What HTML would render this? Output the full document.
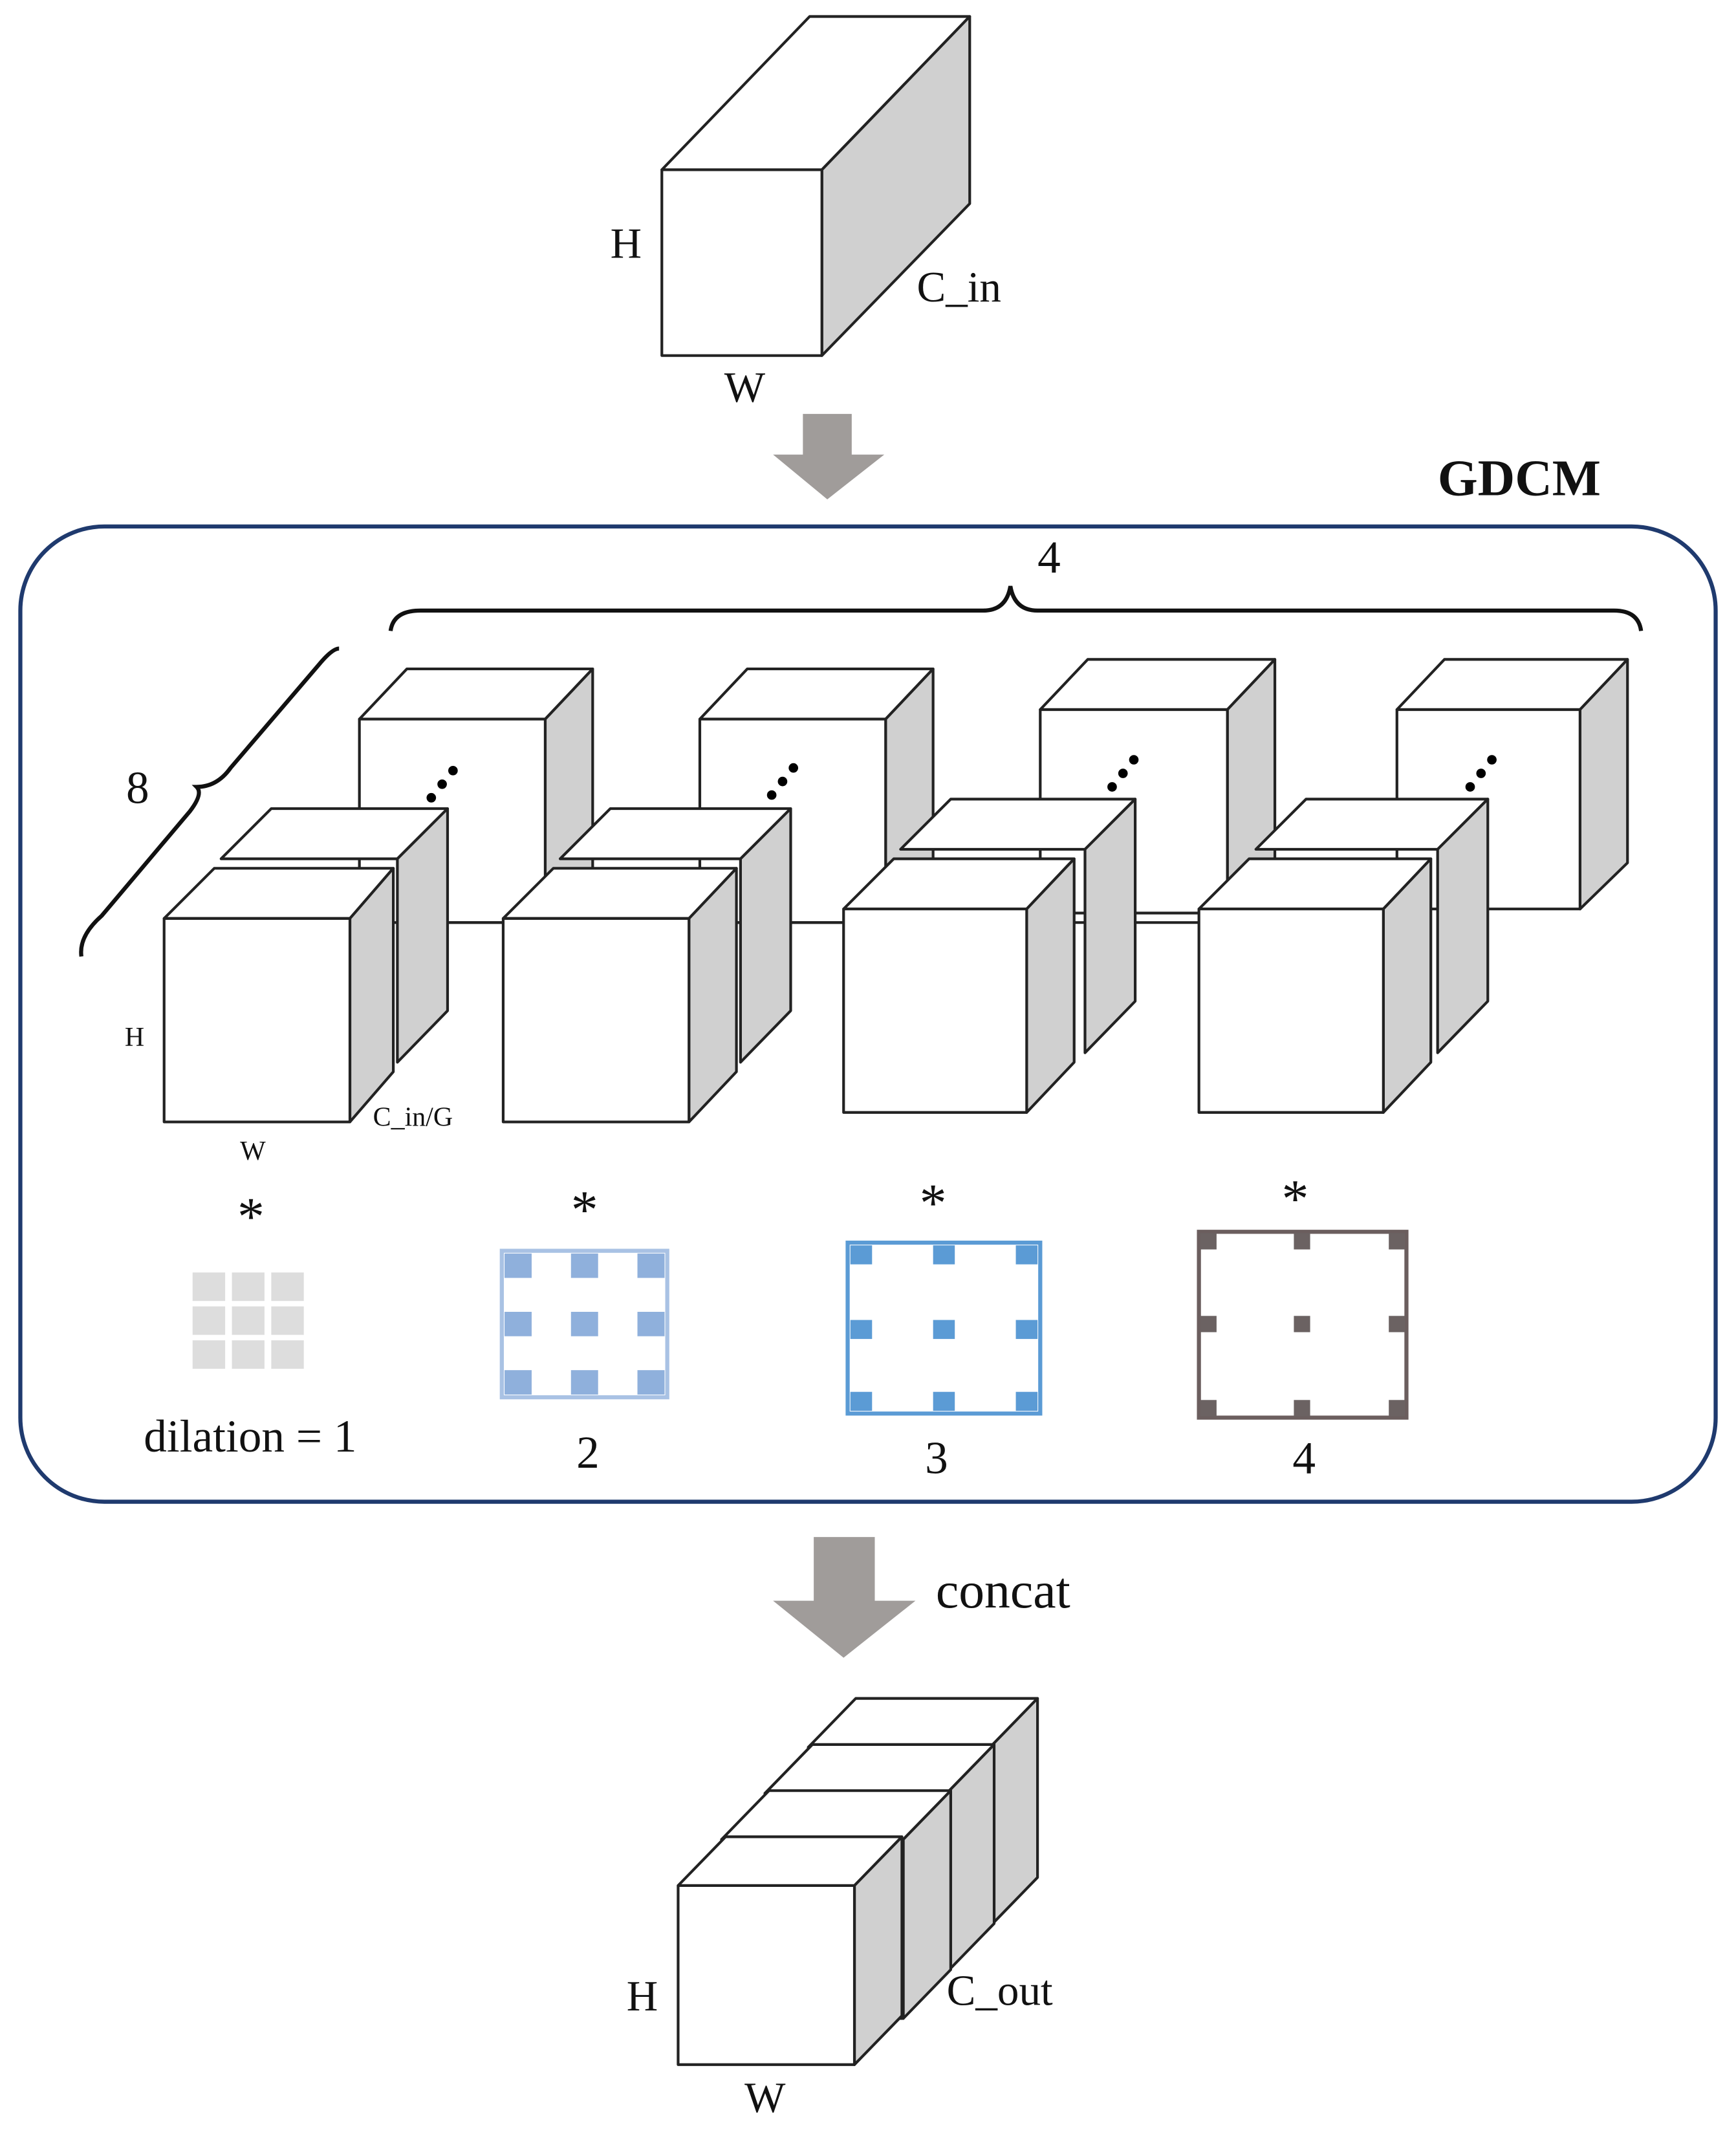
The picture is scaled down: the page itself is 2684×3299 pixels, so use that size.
<!DOCTYPE html>
<html><head><meta charset="utf-8"><style>
html,body{margin:0;padding:0;background:#fff}
svg{display:block}
text{font-family:"Liberation Serif",serif;fill:#111}
</style></head><body>
<svg width="2684" height="3299" viewBox="0 0 1280 1573" xmlns="http://www.w3.org/2000/svg">
<defs>
<g id="dots"><circle cx="0" cy="0" r="3.5" fill="#000"/><circle cx="-8" cy="10" r="3.5" fill="#000"/><circle cx="-16" cy="20" r="3.5" fill="#000"/></g>
</defs>
<g stroke="#222" stroke-width="2" stroke-linejoin="round">
<!-- top input box -->
<polygon points="488,125 597,12 715,12 606,125" fill="#fff"/>
<polygon points="606,125 715,12 715,150 606,262" fill="#d0d0d0"/>
<rect x="488" y="125" width="118" height="137" fill="#fff"/>
</g>
<text x="450" y="190" font-size="32">H</text>
<text x="676" y="222" font-size="32">C_in</text>
<text x="534" y="296" font-size="32">W</text>
<!-- arrow 1 -->
<polygon points="592,305 628,305 628,335 652,335 610,368 570,335 592,335" fill="#a09c9a"/>
<text x="1060" y="365" font-size="38" font-weight="bold">GDCM</text>
<rect x="15" y="388" width="1250" height="719" rx="62" fill="none" stroke="#1f3a6e" stroke-width="3"/>
<!-- braces -->
<path d="M288,465 Q290,450 310,450 L725,450 Q742,450 745,432 Q748,450 765,450 L1190,450 Q1208,450 1210,465" fill="none" stroke="#111" stroke-width="3"/>
<text x="765" y="422" font-size="34">4</text>
<path d="M60,705 Q58,690 75,675 L140,598 Q150,585 145,580 Q160,580 170,566 L235,490 Q245,478 250,478" fill="none" stroke="#111" stroke-width="3"/>
<text x="93" y="592" font-size="34">8</text>
<g stroke="#222" stroke-width="2" stroke-linejoin="round">
<!-- back cubes -->
<g id="back1">
<polygon points="265,530 300,493 437,493 402,530" fill="#fff"/>
<polygon points="402,530 437,493 437,643 402,680" fill="#d0d0d0"/>
<rect x="265" y="530" width="137" height="150" fill="#fff"/>
</g>
<polygon points="516,530 551,493 688,493 653,530" fill="#fff"/>
<polygon points="653,530 688,493 688,643 653,680" fill="#d0d0d0"/>
<rect x="516" y="530" width="137" height="150" fill="#fff"/>
<polygon points="767,523 802,486 940,486 905,523" fill="#fff"/>
<polygon points="905,523 940,486 940,636 905,673" fill="#d0d0d0"/>
<rect x="767" y="523" width="138" height="150" fill="#fff"/>
<polygon points="1030,523 1065,486 1200,486 1165,523" fill="#fff"/>
<polygon points="1165,523 1200,486 1200,636 1165,670" fill="#d0d0d0"/>
<rect x="1030" y="523" width="135" height="147" fill="#fff"/>
<line x1="330" y1="680" x2="1030" y2="680"/>
</g>
<use href="#dots" x="334" y="568"/>
<use href="#dots" x="585" y="566"/>
<use href="#dots" x="836" y="560"/>
<use href="#dots" x="1100" y="560"/>
<g stroke="#222" stroke-width="2" stroke-linejoin="round">
<!-- middle slabs + front cubes -->
<polygon points="163,633 200,596 330,596 293,633" fill="#fff"/>
<polygon points="293,633 330,596 330,745 293,783" fill="#d0d0d0"/>
<polygon points="121,677 158,640 290,640 258,677" fill="#fff"/>
<polygon points="258,677 290,640 290,790 258,827" fill="#d0d0d0"/>
<rect x="121" y="677" width="137" height="150" fill="#fff"/>

<polygon points="413,633 450,596 583,596 546,633" fill="#fff"/>
<polygon points="546,633 583,596 583,745 546,783" fill="#d0d0d0"/>
<polygon points="371,677 408,640 543,640 508,677" fill="#fff"/>
<polygon points="508,677 543,640 543,790 508,827" fill="#d0d0d0"/>
<rect x="371" y="677" width="137" height="150" fill="#fff"/>

<polygon points="664,626 701,589 837,589 800,626" fill="#fff"/>
<polygon points="800,626 837,589 837,738 800,776" fill="#d0d0d0"/>
<polygon points="622,670 659,633 792,633 757,670" fill="#fff"/>
<polygon points="757,670 792,633 792,783 757,820" fill="#d0d0d0"/>
<rect x="622" y="670" width="135" height="150" fill="#fff"/>

<polygon points="926,626 963,589 1097,589 1060,626" fill="#fff"/>
<polygon points="1060,626 1097,589 1097,738 1060,776" fill="#d0d0d0"/>
<polygon points="884,670 921,633 1055,633 1020,670" fill="#fff"/>
<polygon points="1020,670 1055,633 1055,783 1020,820" fill="#d0d0d0"/>
<rect x="884" y="670" width="136" height="150" fill="#fff"/>
</g>
<text x="92" y="771" font-size="20">H</text>
<text x="177" y="855" font-size="20">W</text>
<text x="275" y="830" font-size="20">C_in/G</text>
<text x="175" y="910" font-size="40">*</text>
<text x="421" y="905" font-size="40">*</text>
<text x="678" y="900" font-size="40">*</text>
<text x="945" y="897" font-size="40">*</text>
<!-- kernels -->
<g fill="#ddd">
<rect x="142" y="938" width="24" height="21"/><rect x="171" y="938" width="24" height="21"/><rect x="200" y="938" width="24" height="21"/>
<rect x="142" y="963" width="24" height="21"/><rect x="171" y="963" width="24" height="21"/><rect x="200" y="963" width="24" height="21"/>
<rect x="142" y="988" width="24" height="21"/><rect x="171" y="988" width="24" height="21"/><rect x="200" y="988" width="24" height="21"/>
</g>
<rect x="370" y="922" width="122" height="108" fill="none" stroke="#a9c2e4" stroke-width="3"/>
<g fill="#8fb0dc">
<rect x="372" y="924" width="20" height="18"/><rect x="421" y="924" width="20" height="18"/><rect x="470" y="924" width="20" height="18"/>
<rect x="372" y="967" width="20" height="18"/><rect x="421" y="967" width="20" height="18"/><rect x="470" y="967" width="20" height="18"/>
<rect x="372" y="1010" width="20" height="18"/><rect x="421" y="1010" width="20" height="18"/><rect x="470" y="1010" width="20" height="18"/>
</g>
<rect x="625" y="916" width="142" height="126" fill="none" stroke="#5b9bd5" stroke-width="3"/>
<g fill="#5b9bd5">
<rect x="627" y="918" width="16" height="14"/><rect x="688" y="918" width="16" height="14"/><rect x="749" y="918" width="16" height="14"/>
<rect x="627" y="973" width="16" height="14"/><rect x="688" y="973" width="16" height="14"/><rect x="749" y="973" width="16" height="14"/>
<rect x="627" y="1026" width="16" height="14"/><rect x="688" y="1026" width="16" height="14"/><rect x="749" y="1026" width="16" height="14"/>
</g>
<rect x="884" y="908" width="153" height="137" fill="none" stroke="#6b5e5e" stroke-width="3"/>
<g fill="#6b6262">
<rect x="885" y="909" width="12" height="12"/><rect x="954" y="909" width="12" height="12"/><rect x="1024" y="909" width="12" height="12"/>
<rect x="885" y="970" width="12" height="12"/><rect x="954" y="970" width="12" height="12"/><rect x="1024" y="970" width="12" height="12"/>
<rect x="885" y="1032" width="12" height="12"/><rect x="954" y="1032" width="12" height="12"/><rect x="1024" y="1032" width="12" height="12"/>
</g>
<text x="106" y="1070" font-size="34">dilation = 1</text>
<text x="425" y="1082" font-size="34">2</text>
<text x="682" y="1086" font-size="34">3</text>
<text x="953" y="1086" font-size="34">4</text>
<!-- arrow 2 -->
<polygon points="600,1133 645,1133 645,1180 675,1180 622,1222 570,1180 600,1180" fill="#a09c9a"/>
<text x="690" y="1185" font-size="38">concat</text>
<!-- output stack -->
<g stroke="#222" stroke-width="2" stroke-linejoin="round">
<polygon points="596,1288 631,1252 765,1252 730,1288" fill="#fff"/>
<polygon points="730,1288 765,1252 765,1384 730,1420" fill="#d0d0d0"/>
<rect x="596" y="1288" width="134" height="132" fill="#fff"/>
<polygon points="564,1322 599,1286 733,1286 698,1322" fill="#fff"/>
<polygon points="698,1322 733,1286 733,1418 698,1454" fill="#d0d0d0"/>
<rect x="564" y="1322" width="134" height="132" fill="#fff"/>
<polygon points="532,1356 567,1320 701,1320 666,1356" fill="#fff"/>
<polygon points="666,1356 701,1320 701,1452 666,1488" fill="#d0d0d0"/>
<rect x="532" y="1356" width="134" height="132" fill="#fff"/>
<polygon points="500,1390 535,1354 665,1354 630,1390" fill="#fff"/>
<polygon points="630,1390 665,1354 665,1486 630,1522" fill="#d0d0d0"/>
<rect x="500" y="1390" width="130" height="132" fill="#fff"/>
</g>
<text x="462" y="1482" font-size="32">H</text>
<text x="698" y="1478" font-size="32">C_out</text>
<text x="549" y="1557" font-size="32">W</text>
</svg>
</body></html>
